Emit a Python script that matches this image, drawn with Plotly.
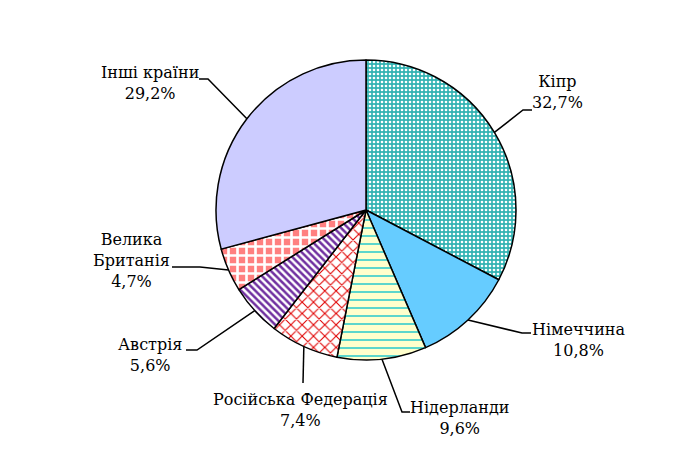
import plotly.graph_objects as go
import numpy as np

# data
countries = ['Кіпр', 'Німеччина', 'Нідерланди', 'Російська Федерація',
             'Австрія', 'Велика Британія', 'Інші країни']
label_text = ['Кіпр', 'Німеччина', 'Нідерланди', 'Російська Федерація',
              'Австрія', 'Велика<br>Британія', 'Інші країни']
shares = [32.7, 10.8, 9.6, 7.4, 5.6, 4.7, 29.2]

W, H = 680, 469
OFF = 8                      # page body margin
cx, cy, R = 366, 210, 150    # pie centre / radius in px (screen)

# styling per slice
bg = ['#33B3B3', '#66CCFF', '#FFFFCC', '#FFFFFF', '#FFFFFF', '#FF8080', '#CCCCFF']
fg = ['#FFFFFF', '#66CCFF', '#33CCCC', '#E00000', '#7030A0', '#FFFFFF', '#CCCCFF']
shp = ['.', '', '-', 'x', '\\', '+', '']
psize = [4, 8, 8, 8, 5, 9, 8]
psol = [0.35, 0.3, 0.2, 0.25, 0.5, 0.5, 0.3]

# label block centre (px) and leader elbow / end (px)
lab_pos = [(557, 92), (578, 340), (460, 418), (300, 410), (150, 355), (131, 260), (150, 83)]
elbow = [(523, 110), (522, 333), (402, 412), (303, 383), (197, 350), (200, 267), (208, 79)]
tail = [(532, 110), (531, 333), (410, 412), (303, 383), (186, 350), (172, 267), (199, 79)]

FONT = 'DejaVu Serif'

def px(x, y):
    return (x - OFF) / W, 1 - (y - OFF) / H

x0, y1 = px(cx - R, cy - R)
x1, y0 = px(cx + R, cy + R)

fig = go.Figure(go.Pie(
    labels=countries, values=shares, sort=False, direction='clockwise',
    rotation=0, textinfo='none', hoverinfo='label+percent', showlegend=False,
    domain=dict(x=[x0, x1], y=[y0, y1]),
    marker=dict(colors=bg, line=dict(color='black', width=1.5),
                pattern=dict(shape=shp, fgcolor=fg, bgcolor=bg, size=psize,
                             solidity=psol, fillmode='replace')),
))

total = sum(shares)
cum = np.cumsum([0] + shares)
shapes, annos = [], []
for i, v in enumerate(shares):
    mid = (cum[i] + v / 2) / total * 2 * np.pi
    ex, ey = cx + R * np.sin(mid), cy - R * np.cos(mid)
    pts = [px(ex, ey), px(*elbow[i]), px(*tail[i])]
    path = 'M {} {} L {} {} L {} {}'.format(*[c for p in pts for c in p])
    shapes.append(dict(type='path', xref='paper', yref='paper', path=path,
                       line=dict(color='black', width=1.5)))
    lx, ly = px(*lab_pos[i])
    annos.append(dict(x=lx, y=ly, xref='paper', yref='paper', showarrow=False,
                      xanchor='center', yanchor='middle', align='center',
                      text='{}<br>{}%'.format(label_text[i], ('%.1f' % v).replace('.', ',')),
                      font=dict(family=FONT, size=16, color='black')))

fig.update_layout(width=W, height=H, autosize=False,
                  margin=dict(l=0, r=0, t=0, b=0),
                  paper_bgcolor='white', plot_bgcolor='white',
                  font=dict(family=FONT),
                  shapes=shapes, annotations=annos)

fig.write_html("out.html")
